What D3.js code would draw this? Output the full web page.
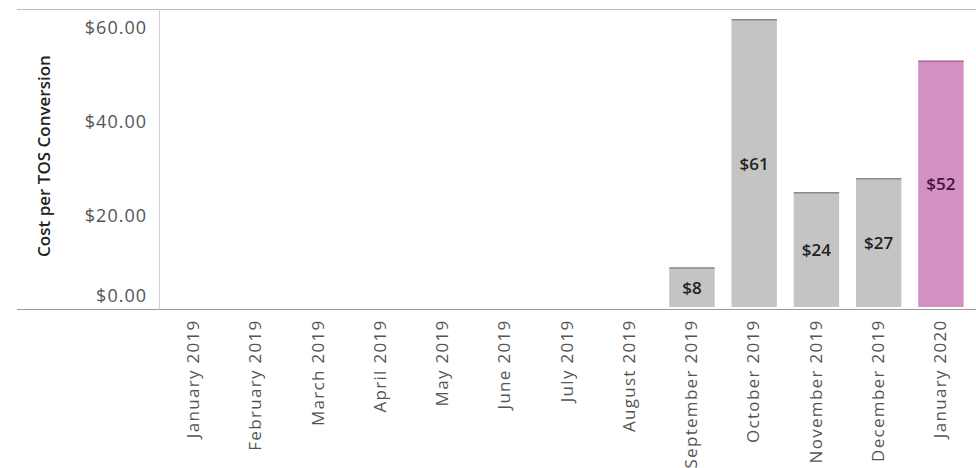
<!DOCTYPE html>
<html><head><meta charset="utf-8">
<script src="https://cdn.jsdelivr.net/npm/d3@7"></script>
<style>body{margin:0;background:#fff;} text{font-family:"Open Sans","Noto Sans",sans-serif;}</style>
</head><body><svg id="c" width="976" height="468"></svg>
<script>
const months = ["January 2019","February 2019","March 2019","April 2019","May 2019","June 2019","July 2019","August 2019","September 2019","October 2019","November 2019","December 2019","January 2020"];
const costs = [null,null,null,null,null,null,null,null,8.4,61.2,24.4,27.4,52.4];
const highlight = [false,false,false,false,false,false,false,false,false,false,false,false,true];
const yTicks = [0,20,40,60];
const yTitle = "Cost per TOS Conversion";

const svg = d3.select("#c");
const x = d3.scaleBand().domain(months).range([163, 972]).paddingInner(0.27).paddingOuter(0.135);
const y = d3.scaleLinear().domain([0, 63.4]).range([307, 9]);
const base = 309.5;

// frame lines
svg.append("line").attr("x1",17).attr("x2",976).attr("y1",9.5).attr("y2",9.5).attr("stroke","#bdbdbd");
svg.append("line").attr("x1",17).attr("x2",976).attr("y1",base).attr("y2",base).attr("stroke","#9a9a9a");
svg.append("line").attr("x1",159.5).attr("x2",159.5).attr("y1",9).attr("y2",base).attr("stroke","#d0d0d0");

const data = months.map((m,i)=>({m, v:costs[i], h:highlight[i]})).filter(d=>d.v!=null);

const g = svg.append("g");
g.selectAll("rect.bar").data(data).join("rect").attr("class","bar")
  .attr("x",d=>x(d.m)).attr("width",x.bandwidth())
  .attr("y",d=>y(d.v)).attr("height",d=>y(0)-y(d.v))
  .attr("fill",d=>d.h?"#d391c3":"#c4c4c4");
g.selectAll("line.top").data(data).join("line").attr("class","top")
  .attr("x1",d=>x(d.m)).attr("x2",d=>x(d.m)+x.bandwidth())
  .attr("y1",d=>y(d.v)+0.5).attr("y2",d=>y(d.v)+0.5)
  .attr("stroke",d=>d.h?"#b06aa0":"#8a8a8a").attr("stroke-width",1.5);

g.selectAll("text.val").data(data).join("text").attr("class","val")
  .attr("x",d=>x(d.m)+x.bandwidth()/2)
  .attr("y",d=>(y(d.v)+y(0))/2)
  .attr("text-anchor","middle").attr("dominant-baseline","central")
  .attr("font-size",17).attr("font-weight",600)
  .attr("fill",d=>d.h?"#4a0f3e":"#222")
  .text(d=>d3.format("$.0f")(d.v));

// y axis
const yAxis = d3.axisLeft(y).tickValues(yTicks).tickSize(0).tickPadding(12).tickFormat(d3.format("$.2f"));
const ya = svg.append("g").attr("transform","translate(159,0)").call(yAxis);
ya.select(".domain").remove();
ya.selectAll("text").attr("font-size",18).attr("fill","#555").attr("letter-spacing","1px")
  .style("font-family","'Open Sans','Noto Sans',sans-serif")
  .attr("dy",(d)=> d===0 ? "-0.3em" : "0.5em");

svg.append("text").attr("transform","translate(50,156) rotate(-90)")
  .attr("text-anchor","middle").attr("font-size",17).attr("font-weight",600).attr("fill","#222")
  .text(yTitle);

// x axis
const xAxis = d3.axisBottom(x).tickSize(0).tickPadding(0);
const xa = svg.append("g").attr("transform",`translate(0,${base})`).call(xAxis);
xa.select(".domain").remove();
xa.selectAll("text").attr("font-size",17).attr("fill","#555").style("font-family","'Open Sans','Noto Sans',sans-serif")
  .attr("letter-spacing","1.3px")
  .attr("text-anchor","end").attr("transform","rotate(-90)")
  .attr("x",-10).attr("y",0).attr("dy","0.3em");
</script></body></html>
